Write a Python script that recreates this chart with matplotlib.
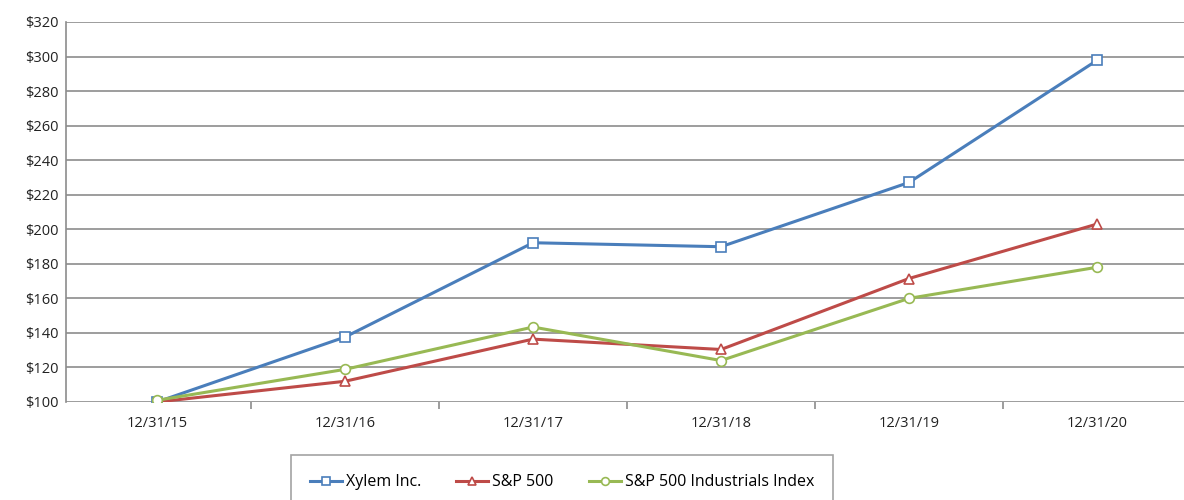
import numpy as np
import matplotlib.pyplot as plt

# cumulative total return, $100 invested 12/31/15
dates = ["12/31/15", "12/31/16", "12/31/17", "12/31/18", "12/31/19", "12/31/20"]
xylem = [100, 137.6, 192.2, 189.9, 227.1, 297.8]
sp500 = [100, 112.0, 136.4, 130.4, 171.5, 203.0]
sp_ind = [101, 118.9, 143.4, 124.0, 160.0, 178.0]

plt.rcParams['font.family'] = ['Open Sans', 'DejaVu Sans']

fig = plt.figure(figsize=(11.84, 5), dpi=100)
ax = fig.add_axes([66 / 1184, 1 - 402 / 500, 1 - 66 / 1184, 380 / 500])

x = np.arange(len(dates))
ax.plot(x, xylem, color='#4a7ebb', lw=2.2, marker='s', ms=7, mfc='white',
        mec='#4a7ebb', mew=1.2, label='Xylem Inc.', zorder=3)
ax.plot(x, sp500, color='#be4b48', lw=2.2, marker='^', ms=7, mfc='white',
        mec='#be4b48', mew=1.2, label='S&P 500', zorder=3)
ax.plot(x, sp_ind, color='#98b954', lw=2.2, marker='o', ms=7, mfc='white',
        mec='#98b954', mew=1.2, label='S&P 500 Industrials Index', zorder=3)

ax.set_ylim(100, 320)
ax.set_yticks(np.arange(100, 321, 20))
ax.set_yticklabels([f"${v}" for v in range(100, 321, 20)])
ax.set_xlim(-91 / 188, 5 + 87 / 188)
ax.set_xticks(x)
ax.set_xticklabels(dates)
ax.set_xticks(x[:-1] + 0.5, minor=True)

ax.grid(axis='y', color='#8c8c8c', lw=1.2)
ax.set_axisbelow(True)
for s in ['top', 'right', 'bottom']:
    ax.spines[s].set_visible(False)
ax.spines['left'].set_color('#8c8c8c')
ax.spines['left'].set_linewidth(1.2)
ax.tick_params(axis='y', length=0, pad=5, labelsize=10.5, colors='#222222')
ax.tick_params(axis='x', which='major', length=0, pad=10, labelsize=10.5, colors='#222222')
ax.tick_params(axis='x', which='minor', length=5, width=1.2, color='#8c8c8c', direction='out')

leg = fig.legend(loc='upper left', bbox_to_anchor=(291 / 1184, 1 - 455 / 500), ncol=3,
                 fontsize=11.5, frameon=True, fancybox=False, edgecolor='#8c8c8c',
                 borderpad=1.2, borderaxespad=0, handlelength=2.0, columnspacing=2.2,
                 handletextpad=0.25, markerscale=0.8)
leg.get_frame().set_linewidth(1.2)

fig.savefig("out.png", dpi=100)
